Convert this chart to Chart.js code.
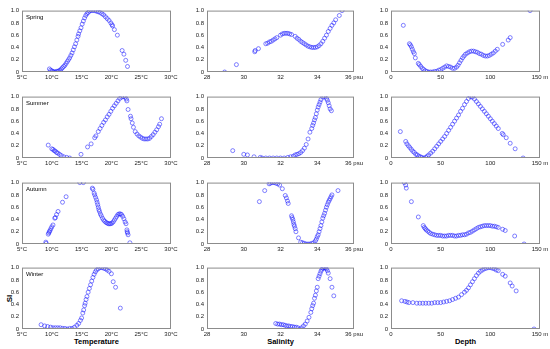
<!DOCTYPE html>
<html>
<head>
<meta charset="utf-8">
<script src="https://cdn.jsdelivr.net/npm/chart.js@4"></script>
<style>
body { margin: 0; background: #fff; }
#wrap { position: relative; width: 550px; height: 349px; font-family: "Liberation Sans", Arial, sans-serif; }
#wrap canvas { position: absolute; }
.ttl { position: absolute; font-weight: bold; font-size: 7.5px; color: #000; line-height: 9px; }
</style>
</head>
<body>
<div id="wrap">
    <div class="ttl" style="left:0;top:294px;width:18px;text-align:center;transform:rotate(-90deg);font-size:8px;">SI</div>
    <div class="ttl" style="left:22px;top:337px;width:149px;text-align:center;">Temperature</div>
    <div class="ttl" style="left:207px;top:337px;width:147px;text-align:center;">Salinity</div>
    <div class="ttl" style="left:391px;top:337px;width:149px;text-align:center;">Depth</div>
</div>
<script>
// tick labels
const tempTicks = ['5°C', '10°C', '15°C', '20°C', '25°C', '30°C'];
const salTicks = ['28', '30', '32', '34', '36 psu'];
const depthTicks = ['0', '50', '100', '150 m'];
const siTicks = ['0', '0.2', '0.4', '0.6', '0.8', '1.0'];
const seasons = ['Spring', 'Summer', 'Autumn', 'Winter'];

// [value, SI]
const springTemp = [[9.6,0.05],[9.8,0.03],[10,0.02],[10.2,0.01],[10.4,0.0],[10.6,0.0],[10.8,0.01],[11,0.01],[11.2,0.02],[11.4,0.03],[11.6,0.05],[11.8,0.07],[12,0.09],[12.2,0.11],[12.4,0.14],[12.6,0.17],[12.8,0.2],[13,0.23],[13.2,0.27],[13.4,0.31],[13.6,0.36],[13.8,0.41],[14,0.46],[14.2,0.52],[14.4,0.58],[14.5,0.62],[14.7,0.67],[14.9,0.72],[15.1,0.78],[15.3,0.83],[15.5,0.88],[15.7,0.92],[15.9,0.95],[16.1,0.97],[16.3,0.99],[16.6,1.0],[16.9,1.0],[17.2,1.0],[17.5,0.99],[17.8,0.98],[18.1,0.97],[18.4,0.95],[18.7,0.93],[19,0.9],[19.3,0.87],[19.6,0.84],[19.9,0.8],[20.1,0.77],[20.2,0.75],[20.5,0.69],[21.0,0.6],[21.8,0.35],[22.1,0.29],[22.4,0.19],[22.7,0.09]];
const springSal = [[28.96,0],[29.6,0.12],[30.6,0.33],[30.62,0.35],[30.8,0.38],[31.2,0.46],[31.3,0.47],[31.4,0.49],[31.5,0.5],[31.6,0.52],[31.7,0.54],[31.8,0.56],[32.0,0.6],[32.1,0.62],[32.2,0.63],[32.3,0.63],[32.4,0.63],[32.5,0.62],[32.6,0.61],[32.8,0.58],[32.9,0.55],[33.0,0.53],[33.1,0.5],[33.2,0.48],[33.3,0.46],[33.4,0.44],[33.5,0.42],[33.6,0.41],[33.7,0.4],[33.8,0.4],[33.9,0.4],[34.0,0.41],[34.1,0.43],[34.2,0.46],[34.3,0.5],[34.4,0.55],[34.5,0.6],[34.6,0.66],[34.7,0.71],[34.8,0.76],[34.9,0.8],[35.0,0.85],[35.2,0.92],[35.35,1.0]];
const springDepth = [[12.4,0.76],[18.5,0.46],[19.5,0.44],[20.5,0.41],[21.5,0.37],[22.5,0.33],[23.5,0.3],[24.5,0.23],[27.5,0.14],[28.5,0.12],[30,0.09],[31.5,0.06],[33,0.04],[34.5,0.02],[36,0.01],[38,0.0],[40,0.0],[42,0.0],[44,0.01],[46,0.01],[48,0.03],[50,0.04],[52,0.06],[54,0.08],[56,0.1],[58,0.09],[60,0.08],[62,0.06],[64,0.06],[66,0.08],[67.5,0.11],[69,0.15],[70.5,0.19],[72,0.23],[73.5,0.26],[75,0.29],[77,0.31],[79,0.33],[81,0.34],[83,0.34],[85,0.33],[87,0.32],[89,0.3],[91,0.29],[93,0.27],[95,0.26],[97,0.26],[99,0.27],[101,0.29],[103,0.31],[105,0.34],[107,0.37],[112.4,0.45],[118,0.52],[120,0.56],[140,1.0]];
const summerTemp = [[9.4,0.21],[10,0.15],[10.2,0.14],[10.4,0.12],[10.6,0.11],[10.8,0.09],[11,0.08],[11.3,0.06],[11.6,0.04],[12,0.02],[12.5,0.01],[13,0.0],[14.9,0.06],[16,0.18],[16.6,0.23],[17.2,0.33],[17.4,0.36],[17.8,0.43],[18.1,0.48],[18.4,0.53],[18.7,0.58],[19,0.62],[19.3,0.67],[19.6,0.71],[19.9,0.76],[20.2,0.81],[20.5,0.85],[20.8,0.89],[21.1,0.93],[21.4,0.97],[21.7,0.99],[22,1.0],[22.3,0.99],[22.5,0.96],[22.6,0.93],[22.8,0.79],[23.2,0.68],[23.3,0.64],[23.5,0.57],[23.7,0.5],[24,0.43],[24.3,0.39],[24.6,0.36],[24.9,0.34],[25.2,0.32],[25.5,0.31],[25.8,0.31],[26.1,0.31],[26.4,0.32],[26.7,0.35],[27,0.38],[27.3,0.42],[27.6,0.46],[27.9,0.51],[28.1,0.55],[28.4,0.64]];
const summerSal = [[29.4,0.12],[30.0,0.06],[30.2,0.05],[30.56,0.02],[30.9,0.01],[31.0,0.0],[31.2,0.0],[31.4,0.0],[31.6,0.0],[31.8,0.0],[32.0,0.0],[32.2,0.0],[32.4,0.01],[32.55,0.02],[32.7,0.03],[32.8,0.05],[32.9,0.06],[33.0,0.07],[33.1,0.09],[33.2,0.12],[33.3,0.16],[33.4,0.22],[33.5,0.31],[33.6,0.42],[33.7,0.48],[33.75,0.53],[33.8,0.57],[33.85,0.62],[33.9,0.66],[33.95,0.72],[34.0,0.78],[34.05,0.83],[34.1,0.87],[34.15,0.91],[34.2,0.95],[34.3,0.99],[34.4,1.0],[34.5,0.97],[34.55,0.94],[34.6,0.9],[34.65,0.85],[34.7,0.8],[34.77,0.77]];
const summerDepth = [[9.4,0.43],[14.8,0.27],[16,0.23],[17.5,0.2],[19,0.17],[20.5,0.14],[22,0.11],[23.5,0.09],[25,0.06],[26.5,0.05],[28,0.03],[29.5,0.02],[31,0.01],[33,0.0],[35,0.01],[36.5,0.03],[38,0.05],[40,0.08],[42,0.11],[44,0.15],[46,0.19],[48,0.23],[50,0.27],[52,0.31],[54,0.35],[56,0.4],[58,0.45],[60,0.5],[62,0.55],[64,0.6],[66,0.65],[68,0.7],[70,0.76],[72,0.81],[74,0.87],[76,0.92],[78,0.97],[80,1.0],[82,0.99],[84,0.96],[86,0.92],[88,0.88],[90,0.84],[92,0.8],[94,0.76],[96,0.72],[98,0.68],[100,0.64],[102,0.6],[104,0.56],[106,0.52],[108,0.48],[112,0.4],[113,0.38],[116,0.33],[120,0.24],[125,0.15],[133,0.0]];
const autumnTemp = [[9.0,0.03],[9.05,0.01],[9.4,0.16],[9.5,0.18],[9.6,0.2],[9.7,0.22],[9.85,0.25],[10.0,0.28],[10.2,0.31],[10.5,0.42],[10.6,0.43],[10.8,0.48],[11.05,0.53],[11.8,0.68],[12.4,0.77],[14.7,1.0],[15.3,1.0],[16.8,0.91],[16.9,0.89],[17.1,0.83],[17.2,0.8],[17.35,0.76],[17.5,0.72],[17.6,0.68],[17.7,0.64],[17.8,0.6],[17.9,0.56],[18.0,0.53],[18.15,0.49],[18.3,0.46],[18.5,0.42],[18.7,0.39],[18.9,0.37],[19.1,0.35],[19.3,0.34],[19.5,0.33],[19.7,0.33],[19.9,0.33],[20.1,0.34],[20.3,0.36],[20.5,0.39],[20.7,0.42],[20.9,0.45],[21.1,0.48],[21.3,0.49],[21.5,0.49],[21.7,0.48],[21.9,0.45],[22.1,0.41],[22.3,0.36],[22.45,0.33],[22.6,0.23],[22.65,0.2],[22.7,0.18],[22.8,0.15],[23.1,0.02]];
const autumnSal = [[30.85,0.69],[31.14,0.87],[31.38,0.98],[31.45,0.99],[31.55,1.0],[31.65,1.0],[31.75,0.99],[31.85,0.98],[31.95,0.96],[32.1,0.9],[32.26,0.79],[32.32,0.75],[32.38,0.7],[32.42,0.66],[32.6,0.46],[32.63,0.43],[32.67,0.4],[32.7,0.36],[32.73,0.32],[32.76,0.29],[32.8,0.25],[32.84,0.2],[32.98,0.1],[33.1,0.03],[33.2,0.02],[33.3,0.01],[33.4,0.0],[33.5,0.0],[33.6,0.0],[33.7,0.01],[33.8,0.02],[33.9,0.05],[33.95,0.08],[34.0,0.12],[34.05,0.15],[34.1,0.2],[34.15,0.25],[34.2,0.3],[34.25,0.36],[34.3,0.42],[34.35,0.46],[34.4,0.5],[34.45,0.55],[34.5,0.6],[34.55,0.64],[34.6,0.68],[34.65,0.71],[34.7,0.74],[34.75,0.77],[34.8,0.8],[35.13,0.87]];
const autumnDepth = [[13.4,1.0],[14.8,0.96],[15.4,0.91],[20.5,0.69],[27.5,0.44],[32.5,0.3],[33.5,0.27],[34.5,0.25],[35.5,0.23],[37,0.21],[38.5,0.19],[40,0.17],[42,0.16],[44,0.15],[46,0.14],[48,0.14],[50,0.14],[52,0.13],[54,0.13],[56,0.13],[58,0.14],[60,0.14],[62,0.14],[64,0.13],[66,0.13],[68,0.14],[70,0.14],[72,0.15],[74,0.15],[76,0.16],[78,0.18],[80,0.19],[82,0.21],[84,0.23],[86,0.25],[88,0.27],[90,0.28],[92,0.29],[94,0.3],[96,0.3],[98,0.3],[100,0.3],[102,0.29],[104,0.29],[106,0.28],[108,0.27],[112.4,0.24],[115,0.22],[124.5,0.13],[134,0.0]];
const winterTemp = [[8.2,0.07],[8.8,0.05],[9.3,0.04],[9.8,0.03],[10.2,0.02],[10.6,0.02],[11,0.02],[11.4,0.02],[11.8,0.01],[12.2,0.01],[12.6,0.0],[13,0.01],[13.4,0.01],[13.8,0.03],[14.2,0.06],[14.5,0.09],[14.8,0.14],[15.0,0.18],[15.2,0.26],[15.35,0.31],[15.5,0.38],[15.6,0.42],[15.75,0.48],[15.9,0.53],[16.1,0.6],[16.3,0.66],[16.5,0.72],[16.7,0.78],[16.9,0.84],[17.1,0.89],[17.3,0.93],[17.5,0.96],[17.8,0.98],[18.1,1.0],[18.4,1.0],[18.7,0.99],[19.0,0.98],[19.3,0.96],[19.6,0.94],[20.0,0.9],[20.3,0.77],[20.7,0.68],[21.5,0.34]];
const winterSal = [[31.74,0.09],[31.85,0.08],[31.95,0.08],[32.05,0.07],[32.15,0.07],[32.25,0.06],[32.35,0.05],[32.45,0.05],[32.55,0.04],[32.65,0.04],[32.75,0.03],[32.85,0.03],[32.95,0.02],[33.05,0.0],[33.15,0.02],[33.25,0.05],[33.35,0.08],[33.45,0.13],[33.55,0.19],[33.65,0.27],[33.7,0.33],[33.75,0.38],[33.8,0.42],[33.85,0.5],[33.9,0.55],[33.95,0.62],[34.0,0.68],[34.05,0.82],[34.1,0.86],[34.15,0.9],[34.2,0.94],[34.25,0.97],[34.3,0.99],[34.35,1.0],[34.4,1.0],[34.45,0.99],[34.5,0.98],[34.55,0.95],[34.6,0.91],[34.7,0.82],[34.8,0.68],[34.9,0.54]];
const winterDepth = [[10.7,0.46],[14,0.45],[16,0.44],[18,0.43],[22,0.43],[26,0.42],[29,0.42],[32,0.42],[35,0.42],[38,0.42],[41,0.42],[44,0.43],[47,0.43],[50,0.43],[53,0.44],[56,0.45],[59,0.46],[62,0.48],[65,0.5],[68,0.52],[71,0.56],[74,0.6],[76,0.63],[78,0.67],[80,0.72],[82,0.77],[84,0.82],[86,0.87],[88,0.91],[90,0.94],[92,0.96],[94,0.98],[96,0.99],[98,1.0],[100,1.0],[102,0.99],[104,0.98],[106,0.96],[108,0.95],[112.4,0.89],[115,0.86],[120,0.75],[122,0.7],[126,0.62],[144,0.0]];

const rows = [
    [springTemp, springSal, springDepth],
    [summerTemp, summerSal, summerDepth],
    [autumnTemp, autumnSal, autumnDepth],
    [winterTemp, winterSal, winterDepth]
];

// x axis per column
const cols = [
    { min: 5, max: 30, step: 5, labels: tempTicks, left: 0 },
    { min: 28, max: 36, step: 2, labels: salTicks, left: 185 },
    { min: 0, max: 150, step: 50, labels: depthTicks, left: 369 }
];
const colWidths = [149, 147, 149];
const rowTops = [8, 94, 180, 265];

const tickFont = { family: '"Liberation Sans", Arial, sans-serif', size: 6 };

const boxPlugin = {
    id: 'box',
    afterDraw(chart) {
        const a = chart.chartArea, ctx = chart.ctx;
        ctx.save();
        ctx.strokeStyle = '#8c8c8c';
        ctx.lineWidth = 1;
        ctx.strokeRect(a.left + 0.5, a.top + 0.5, a.right - a.left - 1, a.bottom - a.top - 1);
        const season = chart.options.plugins.box.season;
        if (season) {
            ctx.fillStyle = '#000';
            ctx.font = '6px "Liberation Sans", Arial, sans-serif';
            ctx.textBaseline = 'top';
            ctx.fillText(season, a.left + 4, a.top + 4);
        }
        ctx.restore();
    }
};

function makePanel(r, c) {
    const col = cols[c];
    const cv = document.createElement('canvas');
    const w = 22 + colWidths[c] + 14;
    const h = 4 + 64 + 10;
    cv.width = w; cv.height = h;
    cv.style.left = col.left + 'px';
    cv.style.top = (rowTops[r] - 4) + 'px';
    cv.style.width = w + 'px';
    cv.style.height = h + 'px';
    document.getElementById('wrap').appendChild(cv);

    new Chart(cv.getContext('2d'), {
        type: 'scatter',
        data: {
            datasets: [{
                data: rows[r][c].map(p => ({ x: p[0], y: p[1] })),
                pointStyle: 'circle',
                pointRadius: 2,
                pointBorderWidth: 0.8,
                pointBorderColor: 'rgba(30, 30, 255, 0.7)',
                pointBackgroundColor: 'rgba(0,0,0,0)'
            }]
        },
        options: {
            responsive: false,
            animation: false,
            devicePixelRatio: 1,
            layout: { padding: { top: 4, right: 14, left: 0, bottom: 0 } },
            plugins: {
                legend: { display: false },
                tooltip: { enabled: false },
                box: { season: c === 0 ? seasons[r] : '' }
            },
            scales: {
                x: {
                    type: 'linear', min: col.min, max: col.max,
                    grid: { display: false, drawTicks: false }, border: { display: false },
                    ticks: {
                        stepSize: col.step, autoSkip: false, maxRotation: 0, padding: 2,
                        color: '#222', font: tickFont,
                        callback: (v, i) => col.labels[i]
                    },
                    afterFit: s => { s.height = 10; }
                },
                y: {
                    type: 'linear', min: 0, max: 1,
                    grid: { display: false, drawTicks: false }, border: { display: false },
                    ticks: {
                        stepSize: 0.2, autoSkip: false, padding: 3,
                        color: '#222', font: tickFont,
                        callback: (v, i) => siTicks[i]
                    },
                    afterFit: s => { s.width = 22; }
                }
            }
        },
        plugins: [boxPlugin]
    });
}

for (let r = 0; r < 4; r++) {
    for (let c = 0; c < 3; c++) {
        makePanel(r, c);
    }
}
</script>
</body>
</html>
